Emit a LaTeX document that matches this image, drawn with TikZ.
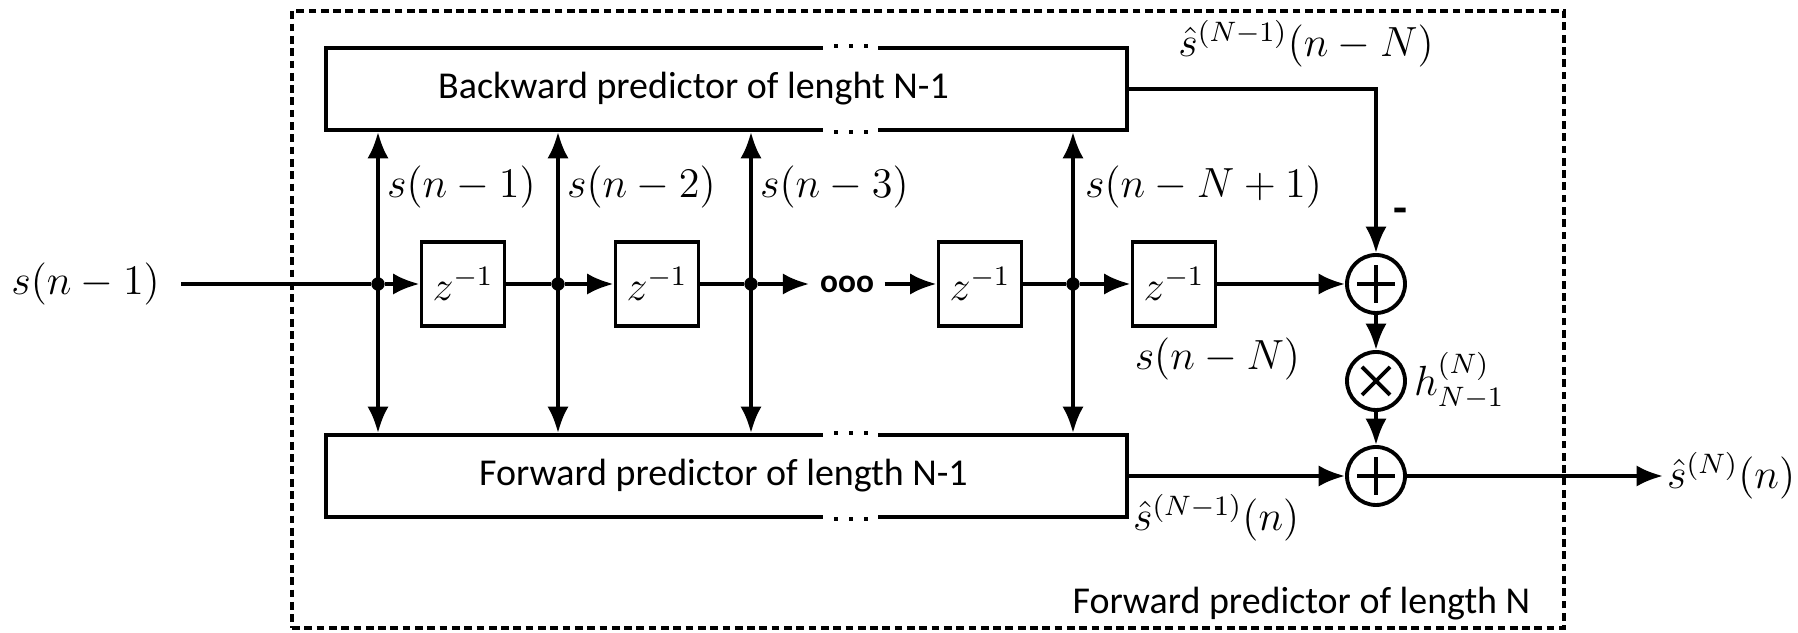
\documentclass[tikz,border=0pt]{standalone}
\usepackage{amsmath}
\usepackage{fontspec}
\setsansfont{Carlito}
\usetikzlibrary{arrows.meta,positioning,calc}

\begin{document}
\begin{tikzpicture}[
  predbox/.style={draw, line width=1.1pt, minimum width=8.01cm, minimum height=0.82cm,
                  inner sep=0pt},
  boxtxt/.style={inner sep=0pt, font=\sffamily\fontsize{10.8}{12}\selectfont},
  delay/.style={draw, line width=1.1pt, minimum width=0.83cm, minimum height=0.84cm,
                inner sep=0pt, font=\fontsize{11.5}{13}\selectfont},
  junc/.style={circle, fill, inner sep=0pt, minimum size=3.8pt},
  sumnode/.style={circle, draw, line width=1.1pt, minimum size=0.58cm, inner sep=0pt,
    path picture={\coordinate (pc) at (path picture bounding box.center);
      \draw[line width=1.1pt] ($(pc)+(-0.19,0)$) -- ($(pc)+(0.19,0)$)
                              ($(pc)+(0,-0.19)$) -- ($(pc)+(0,0.19)$);}},
  mulnode/.style={circle, draw, line width=1.1pt, minimum size=0.58cm, inner sep=0pt,
    path picture={\coordinate (pc) at (path picture bounding box.center);
      \draw[line width=1.1pt] ($(pc)+(-0.14,-0.14)$) -- ($(pc)+(0.14,0.14)$)
                              ($(pc)+(-0.14,0.14)$) -- ($(pc)+(0.14,-0.14)$);}},
  mathlbl/.style={inner sep=1pt, font=\fontsize{11.5}{13}\selectfont},
  wire/.style={line width=1.1pt},
  arr/.style={-{Latex[length=7.5pt,width=6pt]}, line width=1.1pt},
  dblarr/.style={{Latex[length=7.5pt,width=6pt]}-{Latex[length=7.5pt,width=6pt]}, line width=1.1pt},
  outerbox/.style={draw, line width=0.9pt, dash pattern=on 2.2pt off 1.3pt, inner sep=0pt}
]
  \useasboundingbox (0,0) rectangle (17.98,6.33);

  % outer block
  \node[outerbox, minimum width=12.72cm, minimum height=6.17cm] (outer) at (9.28,3.135) {};
  \node[boxtxt, anchor=base east] (outerlbl) at (15.31,0.19) {Forward predictor of length N};

  % predictors
  \node[predbox] (bwd) at (7.265,5.44) {};
  \node[predbox] (fwd) at (7.265,1.57) {};
  \node[boxtxt] (bwdtxt) at ($(bwd)+(-0.33,0)$) {Backward predictor of lenght N-1};
  \node[boxtxt] (fwdtxt) at ($(fwd)+(-0.03,0)$) {Forward predictor of length N-1};
  \foreach \b in {bwd,fwd}
    \foreach \e in {north,south} {
      \fill[white] ($(\b.\e)+(0.965,-0.05)$) rectangle ($(\b.\e)+(1.515,0.05)$);
      \foreach \d in {1.095,1.245,1.395}
        \fill ($(\b.\e)+(\d,0)$) +(-0.6pt,-0.6pt) rectangle +(0.6pt,0.6pt);
    }

  % delay line
  \coordinate (inp) at (1.81,3.49);
  \node[mathlbl, anchor=east] (inlbl) at (1.64,3.49) {$s(n-1)$};
  \node[junc] (j1) at (3.78,3.49) {};
  \node[junc] (j2) at (5.58,3.49) {};
  \node[junc] (j3) at (7.51,3.49) {};
  \node[junc] (j4) at (10.73,3.49) {};
  \node[delay] (z1) at (4.63,3.49) {$z^{-1}$};
  \node[delay] (z2) at (6.57,3.49) {$z^{-1}$};
  \node[delay] (z3) at (9.80,3.49) {$z^{-1}$};
  \node[delay] (z4) at (11.74,3.49) {$z^{-1}$};
  \node[font=\sffamily\bfseries\fontsize{9.5}{10}\selectfont, inner sep=0pt,
        minimum width=0.74cm] (dots) at (8.47,3.49) {ooo};

  \draw[wire] (inp) -- (j1);
  \draw[arr] (j1) -- (z1.west);
  \draw[wire] (z1.east) -- (j2);
  \draw[arr] (j2) -- (z2.west);
  \draw[wire] (z2.east) -- (j3);
  \draw[arr] (j3) -- (dots.west);
  \draw[arr] (dots.east) -- (z3.west);
  \draw[wire] (z3.east) -- (j4);
  \draw[arr] (j4) -- (z4.west);

  % taps
  \foreach \j in {j1,j2,j3,j4}
    \draw[dblarr] (\j |- bwd.south) -- (\j |- fwd.north);
  \node[mathlbl, anchor=west] (l1) at ($(j1)+(0.05,0.97)$) {$s(n-1)$};
  \node[mathlbl, anchor=west] (l2) at ($(j2)+(0.05,0.97)$) {$s(n-2)$};
  \node[mathlbl, anchor=west] (l3) at ($(j3)+(0.05,0.97)$) {$s(n-3)$};
  \node[mathlbl, anchor=west] (l4) at ($(j4)+(0.08,0.97)$) {$s(n-N+1)$};
  \node[mathlbl, anchor=north west] (lN) at ([yshift=-0.06cm]z4.south west) {$s(n-N)$};

  % output stage
  \node[sumnode] (add1) at (13.76,3.49) {};
  \node[mulnode] (mul) at (13.76,2.52) {};
  \node[sumnode] (add2) at (13.76,1.57) {};
  \node[mathlbl, right=0.03cm of mul] (hcoef) {$h^{(N)}_{N-1}$};
  \node[font=\sffamily\bfseries\fontsize{13}{14}\selectfont, inner sep=0pt] (minus) at (14.0,4.17) {-};
  \node[mathlbl] (lbwd) at (13.06,5.89) {$\hat{s}^{(N-1)}(n-N)$};
  \node[mathlbl, anchor=north west] (lfwd) at ([yshift=-0.14cm]fwd.east) {$\hat{s}^{(N-1)}(n)$};
  \node[mathlbl, anchor=west] (out) at (16.63,1.57) {$\hat{s}^{(N)}(n)$};

  \draw[arr] (bwd.east) -| (add1.north);
  \draw[arr] (z4.east) -- (add1.west);
  \draw[arr] (add1.south) -- (mul.north);
  \draw[arr] (mul.south) -- (add2.north);
  \draw[arr] (fwd.east) -- (add2.west);
  \draw[arr] (add2.east) -- (out.west);
\end{tikzpicture}
\end{document}
